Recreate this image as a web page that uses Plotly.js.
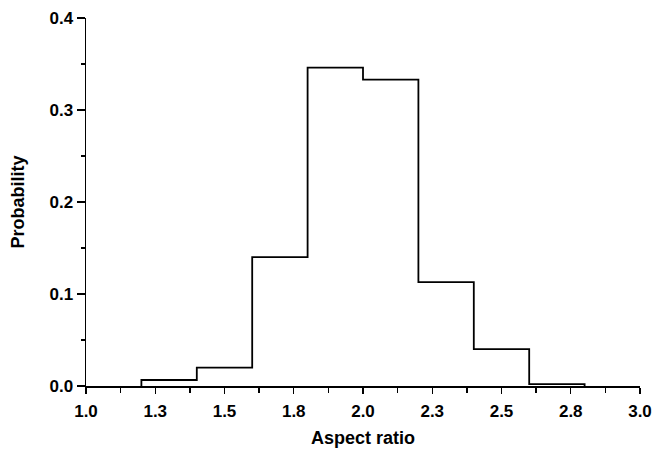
<!DOCTYPE html>
<html>
<head>
<meta charset="utf-8">
<script src="https://cdn.plot.ly/plotly-3.0.1.min.js"></script>
<style>html,body{margin:0;padding:0;background:#fff;}#chart{width:653px;height:455px;}</style>
</head>
<body>
<div id="chart"></div>
<script>
// Bin edges (aspect ratio) and probabilities per bin
const binEdges = [1.2, 1.4, 1.6, 1.8, 2.0, 2.2, 2.4, 2.6, 2.8];
const probabilities = [0.0065, 0.020, 0.140, 0.346, 0.333, 0.113, 0.040, 0.002];

// Tick labels
const xTickVals = [1.0, 1.25, 1.5, 1.75, 2.0, 2.25, 2.5, 2.75, 3.0];
const xTickText = ["1.0", "1.3", "1.5", "1.8", "2.0", "2.3", "2.5", "2.8", "3.0"];
const yTickVals = [0.0, 0.1, 0.2, 0.3, 0.4];
const yTickText = ["0.0", "0.1", "0.2", "0.3", "0.4"];

// Build step outline (vertical first, then horizontal)
const stepX = [binEdges[0]].concat(binEdges.slice(1), [binEdges[binEdges.length - 1]]);
const stepY = [0].concat(probabilities, [0]);

const tickFont = {family: "Liberation Sans, Arial, sans-serif", size: 17, color: "#000", weight: "bold"};
const titleFont = {family: "Liberation Sans, Arial, sans-serif", size: 18, color: "#000", weight: "bold"};

const trace = {
  x: stepX, y: stepY, type: "scatter", mode: "lines",
  line: {shape: "vh", color: "#000", width: 1.8},
  hoverinfo: "skip", showlegend: false
};

const layout = {
  width: 653, height: 455,
  margin: {l: 86, r: 13, t: 18, b: 69},
  paper_bgcolor: "#fff", plot_bgcolor: "#fff",
  font: tickFont,
  showlegend: false,
  xaxis: {
    range: [1, 3], tickmode: "array", tickvals: xTickVals, ticktext: xTickText,
    showgrid: false, zeroline: false, showline: true, linecolor: "#000", linewidth: 2,
    ticks: "outside", ticklen: 6, tickwidth: 1.3, tickcolor: "#000",
    minor: {dtick: 0.125, tick0: 1, ticks: "outside", ticklen: 5, tickwidth: 1.3, tickcolor: "#000", showgrid: false},
    tickfont: tickFont, ticklabelstandoff: 3,
    title: {text: "Aspect ratio", font: titleFont, standoff: 11}
  },
  yaxis: {
    range: [0, 0.4], tickmode: "array", tickvals: yTickVals, ticktext: yTickText,
    showgrid: false, zeroline: false, showline: true, linecolor: "#000", linewidth: 1.5,
    ticks: "outside", ticklen: 8, tickwidth: 1.3, tickcolor: "#000",
    minor: {dtick: 0.05, tick0: 0, ticks: "outside", ticklen: 4, tickwidth: 1.3, tickcolor: "#000", showgrid: false},
    tickfont: tickFont,
    title: {text: "Probability", font: titleFont, standoff: 20}
  }
};

Plotly.newPlot("chart", [trace], layout, {displayModeBar: false, staticPlot: true});
</script>
</body>
</html>
